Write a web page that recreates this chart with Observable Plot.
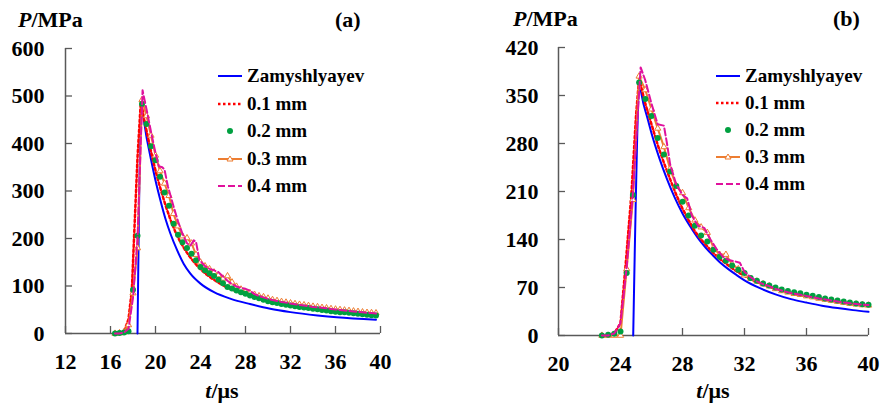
<!DOCTYPE html>
<html><head><meta charset="utf-8">
<script src="https://cdn.jsdelivr.net/npm/d3@7"></script>
<script src="https://cdn.jsdelivr.net/npm/@observablehq/plot@0.6"></script>
<style>
body{margin:0;background:#fff;}
#wrap{position:relative;width:881px;height:406px;overflow:hidden;font-family:"Liberation Serif","Tinos","Nimbus Roman","FreeSerif","DejaVu Serif","Noto Serif",serif;font-weight:bold;color:#000;}
.panel{position:absolute;top:0;}
.t{position:absolute;font-size:22px;line-height:22px;white-space:nowrap;}
.leg{position:absolute;height:20px;display:flex;align-items:center;font-size:19px;line-height:20px;white-space:nowrap;}
.leg svg{margin-right:5px;display:block;}
</style></head><body><div id="wrap"></div>
<script>
// ---------- Panel (a) data ----------
const tA = [16.4,16.8,17.2,17.6,18.0,18.4,18.8,19.2,19.6,20.0,20.4,20.8,21.2,21.6,22.0,22.4,22.8,23.2,23.6,24.0,24.4,24.8,25.2,25.6,26.0,26.4,26.8,27.2,27.6,28.0,28.4,28.8,29.2,29.6,30.0,30.4,30.8,31.2,31.6,32.0,32.4,32.8,33.2,33.6,34.0,34.4,34.8,35.2,35.6,36.0,36.4,36.8,37.2,37.6,38.0,38.4,38.8,39.2,39.6];
const a02 = [0,1,2,5,92,206,483,441,394,365,330,297,269,231,208,192,180,168,154,140,133,127,121,113,106,98,95,90.5,87,83.5,80,77,74,71,68,66,64,62,60.5,59,57.5,56,55,53.5,52,51,49.5,48.5,47,46,45,44.5,43.5,42.5,41.5,40.5,39.5,38.5,38];
const a03 = [0,1,3,18,85,180,492,458,417,375,342,316,290,252,226,205,201,190,166,150,142,136,129,123,116,121,108,99,93,88,85,82,79,77,74,71,69,67,65.5,64,62.5,61,60,58.5,57,56,54.5,53.5,52,51,50,49,48,47,46,45,44,43.5,43];
const a01 = [[16.4,0],[16.8,1],[17.2,4],[17.6,30],[17.9,92],[18.1,206],[18.4,371],[18.7,490],[19.0,450],[19.4,405],[19.8,362],[20.2,325],[20.6,292],[21.0,262],[21.4,235],[21.8,212],[22.2,193],[22.6,177],[23.0,163],[23.4,151],[23.8,140],[24.2,131],[24.6,123],[25.0,116],[25.4,110],[25.8,104],[26.2,99],[26.6,95],[27.0,91],[27.4,87],[27.8,84],[28.2,81],[28.6,78],[29.0,75.5],[29.4,73],[29.8,71],[30.2,69],[30.6,67],[31.0,65],[31.4,63.5],[31.8,62],[32.2,60.5],[32.6,59],[33.0,58],[33.4,56.5],[33.8,55.5],[34.2,54],[34.6,53],[35.0,52],[35.4,51],[35.8,50],[36.2,49],[36.6,48],[37.0,47],[37.4,46],[37.8,45],[38.2,44],[38.6,43],[39.0,42],[39.6,41]];
const a04 = [[16.4,0],[16.8,0],[17.2,2],[17.6,10],[18.0,75],[18.4,200],[18.85,512],[19.2,472],[19.6,425],[20.0,380],[20.3,352],[20.6,350],[20.8,345],[21.1,310],[21.6,268],[22.0,236],[22.4,210],[22.8,190],[23.1,185],[23.4,196],[23.6,193],[23.9,155],[24.4,142],[24.8,136],[25.2,133],[25.6,129],[26.0,120],[26.4,111],[26.8,104],[27.2,99],[27.6,96],[28.0,94],[28.4,90],[28.8,83],[29.2,79],[29.6,76],[30.0,73],[30.4,70.5],[30.8,68.5],[31.2,66.5],[31.6,65],[32.0,63],[32.4,61.5],[32.8,60],[33.2,59],[33.6,57.5],[34.0,56],[34.4,55],[34.8,54],[35.2,53],[35.6,51.5],[36.0,50.5],[36.4,49.5],[36.8,48.5],[37.2,47.5],[37.6,46.5],[38.0,45.5],[38.4,44.5],[38.8,43.5],[39.2,43],[39.6,42]];
const aZam = [[18.4,0],[18.75,466],[19.26,406],[19.56,371],[20.0,322],[20.44,280],[20.89,241],[21.33,210],[21.93,175],[22.5,147],[23.1,126],[24.0,105],[25.2,87],[26.7,73],[28.4,62],[30.2,52],[32.0,45],[34.4,38],[36.1,34],[39.6,29]];
const xTicksA = [12,16,20,24,28,32,36,40];
const yTicksA = [0,100,200,300,400,500,600];

// ---------- Panel (b) data ----------
const tB = [22.8,23.2,23.6,24.0,24.4,24.8,25.2,25.6,26.0,26.4,26.8,27.2,27.6,28.0,28.4,28.8,29.2,29.6,30.0,30.4,30.8,31.2,31.6,32.0,32.4,32.8,33.2,33.6,34.0,34.4,34.8,35.2,35.6,36.0,36.4,36.8,37.2,37.6,38.0,38.4,38.8,39.2,39.6,40.0];
const b02 = [0,1,2.5,6,91,205,369,345,320,288,264,239,218,195,175,160,146,137,125,115,109,102,96,91,84,80,76,73,70,67,65,63,61.5,59.5,58,56,54,52.5,51,49.5,48,46.5,45.5,45];
const b03 = [0,0,0,0,97,198,378,358,330,302,275,243,218,208,186,168,158,150,128,118,118,104,97,88,83,79,75,72,68,65,63,61,59.5,57.5,56,54,52.5,51,49.5,48,46.5,45.5,44.5,44];
const b01 = [[22.8,0],[23.2,1],[23.6,3],[24.0,18],[24.3,95],[24.7,205],[25.0,320],[25.2,375],[25.6,338],[26.0,308],[26.4,278],[26.8,252],[27.2,228],[27.6,205],[28.0,185],[28.4,168],[28.8,152],[29.2,140],[29.6,130],[30.0,120],[30.4,112],[30.8,105],[31.2,98],[31.6,92],[32.0,87],[32.4,82],[32.8,78],[33.2,74],[33.6,71],[34.0,68],[34.4,65],[34.8,63],[35.2,61],[35.6,59],[36.0,57],[36.4,55],[36.8,54],[37.2,52.5],[37.6,51],[38.0,49.5],[38.4,48],[38.8,47],[39.2,46],[39.6,45],[40.0,44]];
const b04 = [[22.8,0],[23.2,0],[23.6,3],[24.0,18],[24.4,100],[24.8,208],[25.3,391],[25.6,372],[26.0,338],[26.4,308],[26.8,306],[27.0,280],[27.2,250],[27.6,220],[28.0,205],[28.3,200],[28.6,175],[29.0,160],[29.4,157],[29.8,140],[30.2,126],[30.6,115],[31.0,110],[31.4,108],[31.7,106],[32.0,93],[32.4,85],[32.8,79],[33.2,75],[33.6,72],[34.0,68],[34.4,65.5],[34.8,63],[35.2,61],[35.6,59.5],[36.0,57.5],[36.4,56],[36.8,54],[37.2,52.5],[37.6,51],[38.0,49.5],[38.4,48],[38.8,47],[39.2,46],[39.6,45],[40.0,44.5]];
const bZam = [[24.82,0],[25.25,358],[25.5,336],[25.75,316],[26.0,295],[26.5,259],[27.0,228],[27.5,201],[28.0,178],[28.5,159],[29.0,142],[29.5,128],[30.0,116],[30.5,105],[31.0,96],[31.5,88],[32.0,80.5],[33.0,69],[34.0,60],[35.0,53],[36.0,48],[37.0,43.5],[38.0,40],[39.0,37],[40.0,34.5]];
const xTicksB = [20,24,28,32,36,40];
const yTicksB = [0,70,140,210,280,350,420];

const legendLabels = ["Zamyshlyayev","0.1 mm","0.2 mm","0.3 mm","0.4 mm"];
const C = {zam:"#0000ff", r01:"#ff0000", g02:"#00a040", o03:"#ed7d31", m04:"#e0119d"};
const AX = "#595959";
const FONT = "'Liberation Serif','Tinos','Nimbus Roman','FreeSerif','DejaVu Serif','Noto Serif',serif";

const grid = (ts, ps) => ts.map((t,i) => ({t, p: ps[i]}));
const pairs = (arr) => arr.map(([t,p]) => ({t, p}));

function panel(cfg) {
  return Plot.plot({
    width: cfg.width, height: 406,
    marginLeft: cfg.ml, marginRight: cfg.mr, marginTop: cfg.mt, marginBottom: cfg.mb,
    x: {domain: cfg.xDomain, label: null},
    y: {domain: cfg.yDomain, label: null},
    style: {fontFamily: FONT, fontSize: "22px", fontWeight: "bold", color: "#000", background: "transparent", overflow: "visible"},
    marks: [
      Plot.ruleX([cfg.xDomain[0]], {stroke: AX, strokeWidth: 1.5}),
      Plot.ruleY([cfg.yDomain[0]], {stroke: AX, strokeWidth: 1.5}),
      Plot.axisY({ticks: cfg.yTicks, tickSize: 0, tickPadding: cfg.yPad, label: null, fontSize: 22, fontWeight: "bold", fontFamily: FONT, fill: "#000"}),
      Plot.axisY({ticks: cfg.yTicks, tickSize: 7, dx: 7, tickFormat: () => "", label: null, stroke: AX, strokeWidth: 1.3}),
      Plot.axisX({ticks: cfg.xTicks, tickSize: 0, tickPadding: 20, label: null, fontSize: 22, fontWeight: "bold", fontFamily: FONT, fill: "#000"}),
      Plot.axisX({ticks: cfg.xTicks, tickSize: 7, dy: -7, tickFormat: () => "", label: null, stroke: AX, strokeWidth: 1.3}),
      Plot.line(pairs(cfg.zam), {x: "t", y: "p", stroke: C.zam, strokeWidth: 2, curve: "monotone-x"}),
      Plot.line(pairs(cfg.s01), {x: "t", y: "p", stroke: C.r01, strokeWidth: 2.5, strokeDasharray: "2.5,2.5"}),
      Plot.line(grid(cfg.t, cfg.s03), {x: "t", y: "p", stroke: C.o03, strokeWidth: 2}),
      Plot.dot(grid(cfg.t, cfg.s03), {x: "t", y: "p", r: 2.3, symbol: "triangle", stroke: C.o03, strokeWidth: 1, fill: "#fff"}),
      Plot.dot(grid(cfg.t, cfg.s02), {x: "t", y: "p", r: 3, fill: C.g02}),
      Plot.line(pairs(cfg.s04), {x: "t", y: "p", stroke: C.m04, strokeWidth: 2, strokeDasharray: "7,3"})
    ]
  });
}

const wrap = document.getElementById("wrap");
function place(el, left) { el.classList.add("panel"); el.style.left = left + "px"; wrap.appendChild(el); }

place(panel({width: 440, ml: 65, mr: 60, mt: 48, mb: 73, xDomain: [12,40], yDomain: [0,600], xTicks: xTicksA, yTicks: yTicksA, yPad: 21,
  t: tA, s02: a02, s03: a03, s01: a01, s04: a04, zam: aZam}), 0);
place(panel({width: 441, ml: 118, mr: 13, mt: 47, mb: 71, xDomain: [20,40], yDomain: [0,420], xTicks: xTicksB, yTicks: yTicksB, yPad: 20,
  t: tB, s02: b02, s03: b03, s01: b01, s04: b04, zam: bZam}), 440);

function text(html, left, top, extra) {
  const d = document.createElement("div");
  d.className = "t"; d.innerHTML = html;
  d.style.left = left + "px"; d.style.top = top + "px";
  if (extra) Object.assign(d.style, extra);
  wrap.appendChild(d);
}
text("<i>P</i>/MPa", 18, 9);
text("(a)", 335, 9);
text("<i>t</i>/μs", 122, 380, {width: "200px", textAlign: "center"});
text("<i>P</i>/MPa", 513, 8);
text("(b)", 833, 8);
text("<i>t</i>/μs", 613, 380, {width: "200px", textAlign: "center"});

function swatch(i) {
  const ns = "http://www.w3.org/2000/svg";
  const s = document.createElementNS(ns, "svg");
  s.setAttribute("width", 24); s.setAttribute("height", 20);
  const line = (stroke, w, dash) => {
    const l = document.createElementNS(ns, "line");
    l.setAttribute("x1", 0); l.setAttribute("x2", 24); l.setAttribute("y1", 10); l.setAttribute("y2", 10);
    l.setAttribute("stroke", stroke); l.setAttribute("stroke-width", w);
    if (dash) l.setAttribute("stroke-dasharray", dash);
    s.appendChild(l);
  };
  if (i === 0) line(C.zam, 2);
  if (i === 1) line(C.r01, 2.5, "2.5,2.5");
  if (i === 2) { const c = document.createElementNS(ns, "circle"); c.setAttribute("cx", 12); c.setAttribute("cy", 10); c.setAttribute("r", 3); c.setAttribute("fill", C.g02); s.appendChild(c); }
  if (i === 3) { line(C.o03, 2); const p = document.createElementNS(ns, "path"); p.setAttribute("d", "M12,7L15,12L9,12Z"); p.setAttribute("fill", "#fff"); p.setAttribute("stroke", C.o03); p.setAttribute("stroke-width", 1); s.appendChild(p); }
  if (i === 4) line(C.m04, 2, "7,3");
  return s;
}
function legend(left, tops) {
  legendLabels.forEach((lab, i) => {
    const row = document.createElement("div");
    row.className = "leg";
    row.style.left = left + "px"; row.style.top = tops[i] + "px";
    row.appendChild(swatch(i));
    const sp = document.createElement("span"); sp.textContent = lab; row.appendChild(sp);
    wrap.appendChild(row);
  });
}
legend(218, [66, 93.5, 121, 148.5, 176]);
legend(716, [66, 93, 120, 147, 174]);
</script></body></html>
